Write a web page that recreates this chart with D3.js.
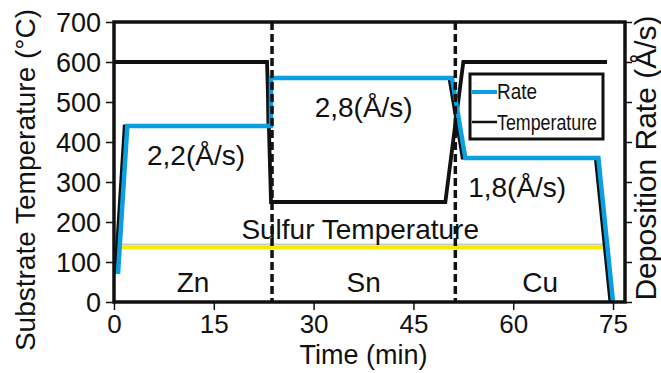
<!DOCTYPE html>
<html>
<head>
<meta charset="utf-8">
<script src="https://cdnjs.cloudflare.com/ajax/libs/d3/7.8.5/d3.min.js"></script>
<style>
  body { margin: 0; background: #fff; }
  text { font-family: "Liberation Sans", Arial, sans-serif; fill: #111; }
</style>
</head>
<body>
<div id="svg-container"></div>
<script>
// Substrate temperature (°C) over time (min)
var tempTime  = [0, 23.0, 23.6, 49.8, 52.5, 74.1];
var tempValue = [600, 600, 250, 250, 600, 600];

// Deposition rate (Å/s) over time (min)
var rateTime  = [0.6, 2.0, 23.6, 23.6, 50.8, 52.8, 72.8, 75.0];
var rateValue = [0.35, 2.2, 2.2, 2.8, 2.8, 1.8, 1.8, 0];

// Sulfur temperature (°C)
var sulfurTime  = [1.2, 74.0];
var sulfurValue = [137, 137];

// Element stages and divider times
var zones = ["Zn", "Sn", "Cu"];
var dividers = [23.75, 51.3];
var zoneRates = [2.2, 2.8, 1.8];

var xTicks = [0, 15, 30, 45, 60, 75];
var yTicks = [0, 100, 200, 300, 400, 500, 600, 700];
var rTicks = [0, 0.5, 1, 1.5, 2, 2.5, 3, 3.5];

var width = 661,
    height = 373;

var plotLeft = 114, plotRight = 625, plotTop = 22, plotBottom = 302;

var svg = d3.select("#svg-container")
    .append("svg")
    .attr("width", width)
    .attr("height", height);

var x = d3.scaleLinear().domain([0, 76.8]).range([plotLeft, plotRight]);
var y = d3.scaleLinear().domain([0, 700]).range([plotBottom, plotTop]);
var yr = d3.scaleLinear().domain([0, 3.5]).range([plotBottom, plotTop]);

// Axes

svg.append("g")
    .attr("transform", "translate(0," + plotBottom + ")")
    .call(d3.axisBottom(x).tickValues(xTicks).tickSize(8).tickPadding(4))
    .call(function(g) {
        g.select(".domain").remove();
        g.selectAll("line").attr("stroke", "#111").attr("stroke-width", 1.5);
        g.selectAll("text").attr("font-size", 26).attr("dy", "0.72em");
    });

svg.append("g")
    .attr("transform", "translate(" + plotLeft + ",0)")
    .call(d3.axisLeft(y).tickValues(yTicks).tickSize(8).tickPadding(5))
    .call(function(g) {
        g.select(".domain").remove();
        g.selectAll("line").attr("stroke", "#111").attr("stroke-width", 1.5);
        g.selectAll("text").attr("font-size", 27).attr("dy", "0.36em");
    });

svg.append("g")
    .attr("transform", "translate(" + plotRight + ",0)")
    .call(d3.axisRight(yr).tickValues(rTicks).tickSize(7).tickFormat(""))
    .call(function(g) {
        g.select(".domain").remove();
        g.selectAll("line").attr("stroke", "#111").attr("stroke-width", 1.5);
    });

// Axis titles

svg.append("text")
    .attr("x", x(37.5))
    .attr("y", 364)
    .attr("text-anchor", "middle")
    .attr("font-size", 27)
    .text("Time (min)");

svg.append("text")
    .attr("transform", "translate(35,180) rotate(-90)")
    .attr("text-anchor", "middle")
    .attr("font-size", 28)
    .text("Substrate Temperature (°C)");

svg.append("text")
    .attr("transform", "translate(656,158) rotate(-90)")
    .attr("text-anchor", "middle")
    .attr("font-size", 30)
    .text("Deposition Rate (Å/s)");

// Sulfur line

var sulfurLine = d3.line()
    .x(function(d, i) { return x(sulfurTime[i]); })
    .y(function(d) { return y(d); });

svg.append("path")
    .attr("d", sulfurLine(sulfurValue))
    .attr("fill", "none")
    .attr("stroke", "#b0b0b0")
    .attr("stroke-width", 1)
    .attr("transform", "translate(0,-3)");

svg.append("path")
    .attr("d", sulfurLine(sulfurValue))
    .attr("fill", "none")
    .attr("stroke", "#f7ea00")
    .attr("stroke-width", 4);

svg.append("text")
    .attr("x", x(37))
    .attr("y", y(sulfurValue[0]) - 8)
    .attr("text-anchor", "middle")
    .attr("font-size", 28)
    .text("Sulfur Temperature");

// Temperature line

var tempLine = d3.line()
    .x(function(d, i) { return x(tempTime[i]); })
    .y(function(d) { return y(d); });

svg.append("path")
    .attr("d", tempLine(tempValue))
    .attr("fill", "none")
    .attr("stroke", "#111")
    .attr("stroke-width", 3.8);

// Rate line with its dark edge

var rateLine = d3.line()
    .x(function(d, i) { return x(rateTime[i]); })
    .y(function(d) { return yr(d); });

svg.append("path")
    .attr("d", rateLine(rateValue))
    .attr("fill", "none")
    .attr("stroke", "#111")
    .attr("stroke-width", 3)
    .attr("transform", "translate(-3,0)");

svg.append("path")
    .attr("d", rateLine(rateValue))
    .attr("fill", "none")
    .attr("stroke", "#0a9fe0")
    .attr("stroke-width", 4.5);

// Stage dividers

svg.selectAll("line.divider")
    .data(dividers)
    .enter().append("line")
    .attr("class", "divider")
    .attr("x1", function(d) { return x(d); })
    .attr("x2", function(d) { return x(d); })
    .attr("y1", plotTop)
    .attr("y2", plotBottom)
    .attr("stroke", "#111")
    .attr("stroke-width", 3.5)
    .attr("stroke-dasharray", "8,4");

// Stage labels and rate labels

var bounds = [0].concat(dividers).concat([x.domain()[1]]);
var rateLabelShift = [3, 0, -23];

svg.selectAll("text.zone")
    .data(zones)
    .enter().append("text")
    .attr("class", "zone")
    .attr("x", function(d, i) { return x((bounds[i] + bounds[i + 1]) / 2); })
    .attr("y", 292)
    .attr("text-anchor", "middle")
    .attr("font-size", 28)
    .text(function(d) { return d; });

svg.selectAll("text.rate")
    .data(zoneRates)
    .enter().append("text")
    .attr("class", "rate")
    .attr("x", function(d, i) { return x((bounds[i] + bounds[i + 1]) / 2) + rateLabelShift[i]; })
    .attr("y", function(d) { return yr(d) + 39; })
    .attr("text-anchor", "middle")
    .attr("font-size", 28)
    .text(function(d) { return d3.format(".1f")(d).replace(".", ",") + "(Å/s)"; });

// Frame

svg.append("rect")
    .attr("x", plotLeft)
    .attr("y", plotTop)
    .attr("width", plotRight - plotLeft)
    .attr("height", plotBottom - plotTop)
    .attr("fill", "none")
    .attr("stroke", "#111")
    .attr("stroke-width", 3.5);

// Legend

var legend = svg.append("g").attr("transform", "translate(470,74)");

legend.append("rect")
    .attr("width", 133)
    .attr("height", 65)
    .attr("fill", "#fff")
    .attr("stroke", "#111")
    .attr("stroke-width", 3);

var legendItems = [
    { name: "Rate", color: "#0a9fe0", w: 4 },
    { name: "Temperature", color: "#111", w: 2.5 }
];

legend.selectAll("line.key")
    .data(legendItems)
    .enter().append("line")
    .attr("class", "key")
    .attr("x1", 2)
    .attr("x2", 27)
    .attr("y1", function(d, i) { return 18 + i * 30; })
    .attr("y2", function(d, i) { return 18 + i * 30; })
    .attr("stroke", function(d) { return d.color; })
    .attr("stroke-width", function(d) { return d.w; });

legend.selectAll("text.key")
    .data(legendItems)
    .enter().append("text")
    .attr("class", "key")
    .attr("x", 27)
    .attr("y", function(d, i) { return 25 + i * 31; })
    .attr("font-size", 22)
    .attr("textLength", function(d) { return d.name.length > 4 ? 100 : 40; })
    .attr("lengthAdjust", "spacingAndGlyphs")
    .text(function(d) { return d.name; });
</script>
</body>
</html>
